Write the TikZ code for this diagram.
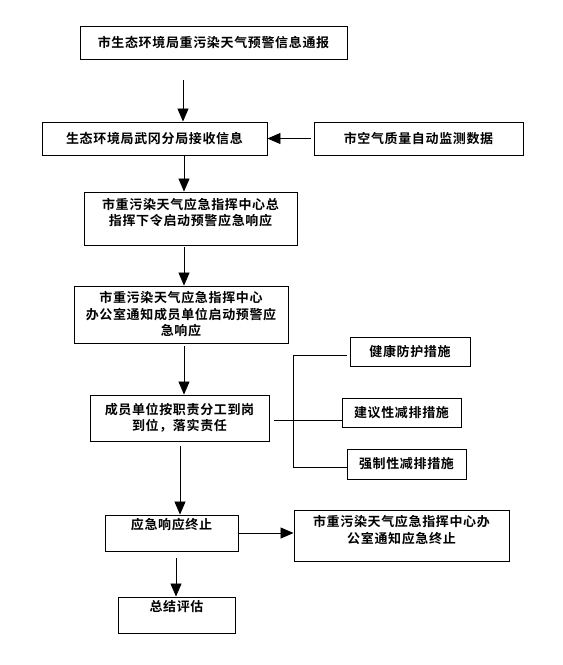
\documentclass[tikz,border=0pt]{standalone}
\usepackage{fontspec}
\setmainfont{Noto Sans CJK SC}[BoldFont={Noto Sans CJK SC Bold}]
\newfontfamily\cjk{Noto Sans CJK SC Bold}[LetterSpace=5]
\usetikzlibrary{arrows.meta}
\begin{document}
\begin{tikzpicture}[x=1pt,y=-1pt,
  box/.style={draw,line width=0.9pt,inner sep=0pt,align=center,font=\cjk\fontsize{13pt}{16.5pt}\selectfont},
  arr/.style={line width=0.8pt,-{Triangle[width=11pt,length=13pt]}},
  ln/.style={line width=0.8pt}]
\useasboundingbox (0,0) rectangle (563,665);
\node[box,minimum width=267pt,minimum height=33pt] (b1) at (213.5,42.5) {市生态环境局重污染天气预警信息通报};
\node[box,minimum width=225pt,minimum height=33pt] (b2) at (154.5,138.5) {生态环境局武冈分局接收信息};
\node[box,minimum width=209pt,minimum height=33pt] (b3) at (418.5,138.5) {市空气质量自动监测数据};
\node[box,minimum width=213pt,minimum height=53pt] (b4) at (190.5,218.5) {市重污染天气应急指挥中心总\\指挥下令启动预警应急响应\\[-3pt]\mbox{}};
\node[box,minimum width=214pt,minimum height=57pt] (b5) at (181,314.5) {市重污染天气应急指挥中心\\办公室通知成员单位启动预警应\\急响应};
\node[box,minimum width=179pt,minimum height=46pt] (b6) at (179.5,418) {成员单位按职责分工到岗\\到位，落实责任};
\node[box,minimum width=120pt,minimum height=29pt] (m1) at (410,351.5) {健康防护措施};
\node[box,minimum width=119pt,minimum height=29pt] (m2) at (401.5,412.5) {建议性减排措施};
\node[box,minimum width=119pt,minimum height=30pt] (m3) at (406.5,464) {强制性减排措施};
\node[box,minimum width=133pt,minimum height=36pt] (b7) at (171.5,533) {应急响应终止\\[2pt]\mbox{}};
\node[box,minimum width=215pt,minimum height=51pt] (b8) at (401.5,535.5) {市重污染天气应急指挥中心办\\公室通知应急终止\\[-4pt]\mbox{}};
\node[box,minimum width=117pt,minimum height=36pt] (b9) at (176.5,615) {总结评估\\[2pt]\mbox{}};
% arrows
\coordinate (a1) at (183,80);
\draw[arr] (a1) -- (a1 |- b2.north);
\draw[arr] ([xshift=-3pt]b3.west) -- (b2.east);
\coordinate (a2) at (184,155);
\draw[arr] (a2) -- (a2 |- b4.north);
\coordinate (a3) at (184,247);
\draw[arr] (a3) -- (a3 |- b5.north);
\coordinate (a4) at (184,346);
\draw[arr] (a4) -- (a4 |- b6.north);
% bracket
\coordinate (k0) at (274,420);
\coordinate (kt) at (293,355);
\coordinate (kb) at (293,467);
\draw[ln] (k0) -- (k0 -| m2.west);
\draw[ln] (kt) -- (kb);
\draw[ln] (kt) -- ([xshift=-3pt]kt -| m1.west);
\draw[ln] (kb) -- (kb -| m3.west);
% lower
\coordinate (a5) at (180,446);
\draw[arr] (a5) -- (a5 |- b7.north);
\coordinate (a6) at (239,533);
\draw[arr] (a6) -- (a6 -| b8.west);
\coordinate (a7) at (176,558);
\draw[arr] (a7) -- (a7 |- b9.north);
\end{tikzpicture}
\end{document}
